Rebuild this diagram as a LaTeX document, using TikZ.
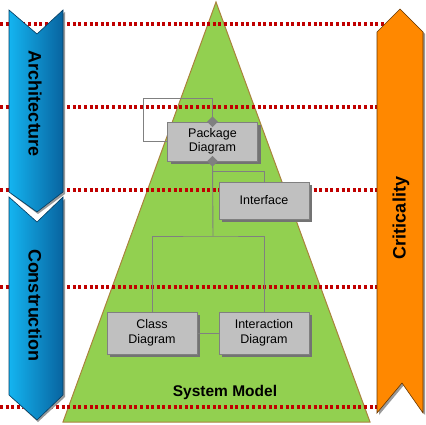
\documentclass[tikz,border=0pt]{standalone}
\usepackage{fontspec}
\setmainfont{Liberation Sans}
\usetikzlibrary{shapes.geometric,shadows}
\definecolor{tri}{RGB}{146,208,80}
\definecolor{triedge}{RGB}{170,130,60}
\definecolor{dotred}{RGB}{192,0,0}
\definecolor{boxfill}{RGB}{192,192,192}
\definecolor{boxedge}{RGB}{128,128,128}
\definecolor{blueL}{RGB}{20,180,240}
\definecolor{blueR}{RGB}{8,100,160}
\definecolor{orng}{RGB}{255,136,0}
\tikzset{
  guide/.style={dotred,line width=3.2pt,dash pattern=on 3pt off 2.6pt},
  umlbox/.style={draw=boxedge,fill=boxfill,minimum width=90pt,minimum height=39pt,
     align=center,font=\fontsize{12.5}{14.5}\selectfont,inner sep=1pt,
     drop shadow={shadow xshift=3pt,shadow yshift=-3pt,fill=black!55,opacity=1}},
  conn/.style={draw=boxedge,line width=0.9pt},
  agg/.style={diamond,fill=boxedge,inner sep=0pt,minimum width=11pt,minimum height=11pt},
  bluearrow/.style={draw=blueR!60!black,line width=0.6pt,left color=blueL,right color=blueR},
  sidetext/.style={font=\bfseries\fontsize{18}{20}\selectfont},
}
\begin{document}
\begin{tikzpicture}[x=1pt,y=-1pt]
\useasboundingbox (0,0) rectangle (426,425);
% pyramid
\draw[fill=tri,draw=triedge,line width=1pt] (216,2) -- (370,422) -- (63,422) -- cycle;
% guide lines
\foreach \yy in {24,107,190,287,407} \draw[guide] (0,\yy) -- (384,\yy);
% boxes
\node[umlbox] (pkg) at (212.5,141.5) {Package\\Diagram};
\node[umlbox,minimum height=37pt] (ifc) at (264,200.5) {Interface};
\node[umlbox,minimum height=42pt] (cls) at (152,333) {Class\\Diagram};
\node[umlbox,minimum height=42pt] (int) at (264,333) {Interaction\\Diagram};
% connectors
\coordinate (loopc) at (143,98);
\coordinate (br) at (213,236);
\coordinate (ifb) at (213,171);
\draw[conn] (pkg.north) |- (loopc) |- (pkg.west);
\draw[conn] (pkg.south) -- (br);
\draw[conn] (ifb) -| (ifc.north);
\draw[conn] (cls.north) |- (br) -| (int.north);
\draw[conn] (cls.east) -- (int.west);
\node[agg] (d1) at (pkg.north) {};
\node[agg] (d2) at (pkg.south) {};
\node[font=\bfseries\fontsize{15.5}{17}\selectfont] (sm) at (225,392) {System Model};
% blue chevrons
\fill[black!40] (11,12) -- (38,36) -- (65,12) -- (65,194) -- (38,214) -- (11,194) -- cycle;
\path[bluearrow] (9,10) -- (37,34) -- (63,10) -- (63,192) -- (37,212) -- (9,192) -- cycle;
\fill[black!40] (11,199) -- (38,224) -- (65,199) -- (65,397) -- (38,422) -- (11,397) -- cycle;
\path[bluearrow] (9,197) -- (37,222) -- (63,197) -- (63,395) -- (37,420) -- (9,395) -- cycle;
\node[sidetext,rotate=-90] (arch) at (35,104) {Architecture};
\node[sidetext,rotate=-90] (cons) at (35,305) {Construction};
% orange chevron
\fill[black!40] (379,34) -- (402,11) -- (425,34) -- (425,415) -- (404,385) -- (379,415) -- cycle;
\draw[fill=orng,draw=orng!40!black,line width=0.6pt] (377,32) -- (400,9) -- (423,32) -- (423,413) -- (402,383) -- (377,413) -- cycle;
\node[sidetext,rotate=90] (crit) at (401,218) {Criticality};
\end{tikzpicture}
\end{document}
